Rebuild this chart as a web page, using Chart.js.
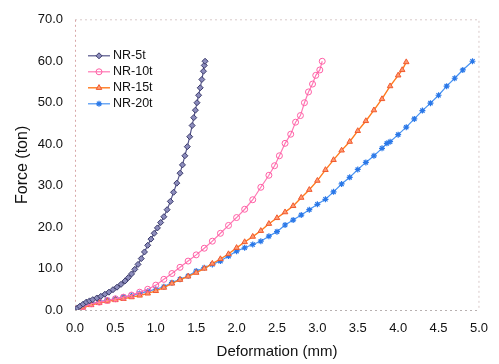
<!DOCTYPE html>
<html>
<head>
<meta charset="utf-8">
<script src="https://cdn.jsdelivr.net/npm/chart.js@4/dist/chart.umd.min.js"></script>
<style>
  html, body { margin: 0; padding: 0; background: #fff; }
  #wrap { width: 499px; height: 364px; }
</style>
</head>
<body>
<div id="wrap"><canvas id="myChart" width="499" height="364"></canvas></div>
<script>
// series names
var seriesNames = ["NR-5t", "NR-10t", "NR-15t", "NR-20t"];

// NR-5t  (deformation mm / force ton)
var nr5X = [0, 0.03, 0.06, 0.10, 0.14, 0.18, 0.22, 0.27, 0.32, 0.37, 0.42, 0.47, 0.52, 0.57, 0.62, 0.66, 0.70, 0.74, 0.78, 0.82, 0.86, 0.90, 0.94, 0.98, 1.02, 1.06, 1.10, 1.14, 1.18, 1.22, 1.26, 1.30, 1.33, 1.36, 1.39, 1.42, 1.45, 1.47, 1.49, 1.51, 1.53, 1.55, 1.57, 1.59, 1.60, 1.61];
var nr5F = [0, 0.5, 0.9, 1.4, 1.9, 2.2, 2.5, 2.9, 3.3, 3.8, 4.3, 4.9, 5.5, 6.2, 7.0, 7.8, 8.7, 9.8, 11.0, 12.4, 14.0, 15.6, 17.1, 18.5, 19.8, 21.1, 22.5, 24.2, 26.2, 28.4, 30.6, 33.0, 35.0, 37.2, 39.4, 41.8, 44.5, 46.4, 48.2, 50.0, 51.8, 53.6, 55.6, 57.6, 59.0, 60.0];

// NR-10t
var nr10X = [0, 0.1, 0.2, 0.3, 0.4, 0.5, 0.6, 0.7, 0.8, 0.9, 1.0, 1.1, 1.2, 1.3, 1.4, 1.5, 1.6, 1.7, 1.8, 1.9, 2.0, 2.1, 2.2, 2.3, 2.4, 2.47, 2.53, 2.6, 2.67, 2.73, 2.79, 2.84, 2.89, 2.94, 2.98, 3.03, 3.06];
var nr10F = [0, 0.8, 1.5, 1.9, 2.3, 2.7, 3.1, 3.6, 4.3, 5.0, 6.0, 7.4, 8.8, 10.3, 11.8, 13.3, 14.9, 16.6, 18.5, 20.4, 22.3, 24.3, 26.6, 29.6, 32.5, 34.8, 37.2, 40.2, 42.4, 45.3, 46.9, 50.0, 52.6, 54.5, 56.6, 57.9, 60.0];

// NR-15t
var nr15X = [0, 0.1, 0.2, 0.3, 0.4, 0.5, 0.6, 0.7, 0.8, 0.9, 1.0, 1.1, 1.2, 1.3, 1.4, 1.5, 1.6, 1.7, 1.8, 1.9, 2.0, 2.1, 2.2, 2.3, 2.4, 2.5, 2.6, 2.7, 2.8, 2.9, 3.0, 3.1, 3.2, 3.3, 3.4, 3.5, 3.6, 3.7, 3.8, 3.9, 4.0, 4.05, 4.1];
var nr15F = [0, 0.6, 1.2, 1.7, 2.1, 2.4, 2.7, 3.1, 3.5, 4.0, 4.6, 5.4, 6.4, 7.3, 8.1, 9.0, 10.0, 11.2, 12.3, 13.5, 15.0, 16.4, 17.7, 19.1, 20.8, 22.2, 23.6, 25.1, 27.1, 29.0, 31.2, 33.8, 36.2, 38.5, 40.6, 43.2, 45.6, 48.2, 50.9, 54.0, 56.6, 57.9, 59.8];

// NR-20t
var nr20X = [0, 0.1, 0.2, 0.3, 0.4, 0.5, 0.6, 0.7, 0.8, 0.9, 1.0, 1.1, 1.2, 1.3, 1.4, 1.5, 1.6, 1.7, 1.8, 1.9, 2.0, 2.1, 2.2, 2.3, 2.4, 2.5, 2.6, 2.7, 2.8, 2.9, 3.0, 3.1, 3.2, 3.3, 3.4, 3.5, 3.6, 3.7, 3.8, 3.86, 3.9, 4.0, 4.1, 4.2, 4.3, 4.4, 4.5, 4.6, 4.7, 4.8, 4.92];
var nr20F = [0, 0.9, 1.5, 2.0, 2.4, 2.7, 3.1, 3.5, 4.0, 4.5, 5.0, 5.6, 6.6, 7.4, 8.2, 9.4, 10.2, 11.0, 11.8, 13.0, 14.2, 15.0, 15.8, 16.6, 17.8, 18.9, 20.5, 21.7, 22.9, 24.2, 25.5, 26.7, 28.5, 30.4, 32.0, 33.9, 35.6, 37.2, 39.0, 40.2, 40.6, 42.3, 44.1, 46.1, 48.1, 49.9, 51.8, 54.0, 55.9, 57.9, 60.0];

// axis ticks
var xTickStep = 0.5, xMin = 0, xMax = 5;
var yTickStep = 10, yMin = 0, yMax = 70;

function toPoints(xs, ys) {
  return xs.map(function (x, i) { return { x: x, y: ys[i] }; });
}

var FONT = "'Liberation Sans', Arial, sans-serif";

var data = {
  datasets: [
    {
      label: seriesNames[0],
      data: toPoints(nr5X, nr5F),
      borderColor: '#55558a',
      backgroundColor: '#8c8cbc',
      pointBorderColor: '#3a3a6a',
      pointStyle: 'rectRot',
      pointRadius: 3,
      borderWidth: 1.2,
      pointBorderWidth: 1
    },
    {
      label: seriesNames[1],
      data: toPoints(nr10X, nr10F),
      borderColor: '#ff78b4',
      backgroundColor: 'rgba(255,255,255,0)',
      pointBorderColor: '#ff5fa5',
      pointStyle: 'circle',
      pointRadius: 3,
      borderWidth: 1.2,
      pointBorderWidth: 1
    },
    {
      label: seriesNames[2],
      data: toPoints(nr15X, nr15F),
      borderColor: '#ff7a1e',
      backgroundColor: '#ff9a70',
      pointBorderColor: '#f05a30',
      pointStyle: 'triangle',
      pointRadius: 3.2,
      borderWidth: 1.4,
      pointBorderWidth: 1
    },
    {
      label: seriesNames[3],
      data: toPoints(nr20X, nr20F),
      borderColor: '#4a94f2',
      backgroundColor: '#2a78e8',
      pointBorderColor: '#2a78e8',
      pointStyle: 'star',
      pointRadius: 3,
      borderWidth: 1.2,
      pointBorderWidth: 1.2
    }
  ]
};

// dotted frame round the plot + legend inside upper left
var framePlugin = {
  id: 'frame',
  beforeDatasetsDraw: function (chart) {
    var a = chart.chartArea, c = chart.ctx;
    c.save();
    c.lineWidth = 1;
    c.setLineDash([2, 3]);
    c.strokeStyle = '#d9c9c9';
    c.beginPath();
    c.moveTo(a.left, a.top); c.lineTo(a.right, a.top); c.lineTo(a.right, a.bottom);
    c.stroke();
    c.strokeStyle = '#d8a8a8';
    c.beginPath();
    c.moveTo(a.left + 0.5, a.top); c.lineTo(a.left + 0.5, a.bottom);
    c.stroke();
    c.strokeStyle = '#b8b0b0';
    c.beginPath();
    c.moveTo(a.left, a.bottom + 0.5); c.lineTo(a.right, a.bottom + 0.5);
    c.stroke();
    c.restore();
  },
  afterDatasetsDraw: function (chart) {
    var a = chart.chartArea, c = chart.ctx;
    c.save();
    chart.data.datasets.forEach(function (ds, i) {
      var y = a.top + 36 + i * 16;
      var x0 = a.left + 13, x1 = a.left + 35;
      c.setLineDash([]);
      c.strokeStyle = ds.borderColor;
      c.lineWidth = ds.borderWidth;
      c.beginPath(); c.moveTo(x0, y); c.lineTo(x1, y); c.stroke();
      c.fillStyle = ds.backgroundColor;
      c.strokeStyle = ds.pointBorderColor;
      c.lineWidth = ds.pointBorderWidth;
      Chart.helpers.drawPoint(c, {
        pointStyle: ds.pointStyle, radius: ds.pointRadius, borderWidth: ds.pointBorderWidth, rotation: 0
      }, (x0 + x1) / 2, y);
      c.fillStyle = '#111';
      c.font = '12.5px ' + FONT;
      c.textBaseline = 'middle';
      c.textAlign = 'left';
      c.fillText(ds.label, x1 + 3, y);
    });
    c.restore();
  }
};

const config = {
  type: 'line',
  data: data,
  options: {
    responsive: false,
    animation: false,
    showLine: true,
    layout: { padding: { left: 11, top: 14, right: 10, bottom: 2 } },
    plugins: {
      legend: { display: false },
      tooltip: { enabled: false }
    },
    scales: {
      x: {
        type: 'linear',
        min: xMin, max: xMax,
        grid: { display: false, drawTicks: false },
        border: { display: false },
        afterFit: function (s) { s.height = 52; },
        ticks: {
          stepSize: xTickStep,
          padding: 11,
          color: '#111',
          font: { family: FONT, size: 13 },
          callback: function (v) { return v.toFixed(1); }
        },
        title: {
          display: true,
          text: 'Deformation (mm)',
          color: '#111',
          font: { family: FONT, size: 15 },
          padding: { top: 0, bottom: 1 }
        }
      },
      y: {
        min: yMin, max: yMax,
        grid: { display: false, drawTicks: false },
        border: { display: false },
        afterFit: function (s) { s.width = 64; },
        ticks: {
          stepSize: yTickStep,
          padding: 12,
          color: '#111',
          font: { family: FONT, size: 13 },
          callback: function (v) { return v.toFixed(1); }
        },
        title: {
          display: true,
          text: 'Force (ton)',
          color: '#111',
          font: { family: FONT, size: 16 },
          padding: { top: 2, bottom: 2 }
        }
      }
    }
  },
  plugins: [framePlugin]
};

const myChart = new Chart(document.getElementById('myChart'), config);
</script>
</body>
</html>
